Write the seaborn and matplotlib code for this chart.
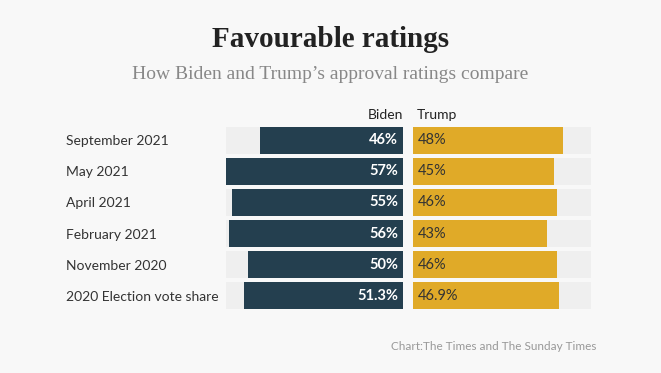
import numpy as np
import pandas as pd
import seaborn as sns
import matplotlib.pyplot as plt

# data
periods = ["September 2021", "May 2021", "April 2021", "February 2021",
           "November 2020", "2020 Election vote share"]
biden = [46, 57, 55, 56, 50, 51.3]
trump = [48, 45, 46, 43, 46, 46.9]
biden_labels = ["46%", "57%", "55%", "56%", "50%", "51.3%"]
trump_labels = ["48%", "45%", "46%", "43%", "46%", "46.9%"]

navy = "#243f4f"
gold = "#e0aa28"
track = "#efefef"
bg = "#f8f8f8"

sns.set_theme(style="white")
plt.rcParams["font.family"] = ["Lato", "DejaVu Sans"]

df = pd.DataFrame({"period": periods, "biden": biden, "trump": trump})
top = max(max(biden), max(trump))
df["track"] = top

fig = plt.figure(figsize=(6.61, 3.73), dpi=100, facecolor=bg)
ax_b = fig.add_axes([226 / 661, 0.165, 177 / 661, 0.501])
ax_t = fig.add_axes([413 / 661, 0.165, 178 / 661, 0.501])

for ax, col, color in [(ax_b, "biden", navy), (ax_t, "trump", gold)]:
    ax.set_facecolor(bg)
    sns.barplot(data=df, y="period", x="track", color=track, width=0.87,
                ax=ax, saturation=1, orient="h", linewidth=0)
    sns.barplot(data=df, y="period", x=col, color=color, width=0.87,
                ax=ax, saturation=1, orient="h", linewidth=0)
    ax.set_xlim(0, top)
    ax.set_ylim(5.5, -0.5)
    ax.set_xlabel("")
    ax.set_ylabel("")
    ax.set_xticks([])
    sns.despine(ax=ax, left=True, bottom=True)

ax_b.invert_xaxis()
ax_t.set_yticks([])
ax_b.set_yticks(range(len(periods)))
ax_b.set_yticklabels(periods, fontsize=10, color="#333333")
ax_b.tick_params(axis="y", length=0, pad=0)
for t in ax_b.get_yticklabels():
    t.set_horizontalalignment("left")
    t.set_x(-160 / 177)
    t.set_transform(ax_b.get_yaxis_transform())

for i in range(len(periods)):
    ax_b.text(1.5, i, biden_labels[i], ha="right", va="center",
              color="white", fontsize=10.5, fontweight="bold")
    ax_t.text(1.5, i, trump_labels[i], ha="left", va="center",
              color="#333333", fontsize=10.5)

ax_b.text(1.0, 1.02, "Biden", transform=ax_b.transAxes, ha="right",
          va="bottom", fontsize=10, color="#222222")
ax_t.text(0.02, 1.02, "Trump", transform=ax_t.transAxes, ha="left",
          va="bottom", fontsize=10, color="#222222")

fig.text(0.5, 0.895, "Favourable ratings", ha="center", va="center",
         fontsize=21, fontweight="bold", color="#222222",
         family=["Liberation Serif", "DejaVu Serif"])
fig.text(0.5, 0.80, "How Biden and Trump\u2019s approval ratings compare",
         ha="center", va="center", fontsize=14, color="#888888",
         family=["Liberation Serif", "DejaVu Serif"])
fig.text(596 / 661, 1 - 347 / 373, "Chart:The Times and The Sunday Times",
         ha="right", va="center", fontsize=8.5, color="#999999")

fig.savefig("out.png", dpi=100, facecolor=bg)
